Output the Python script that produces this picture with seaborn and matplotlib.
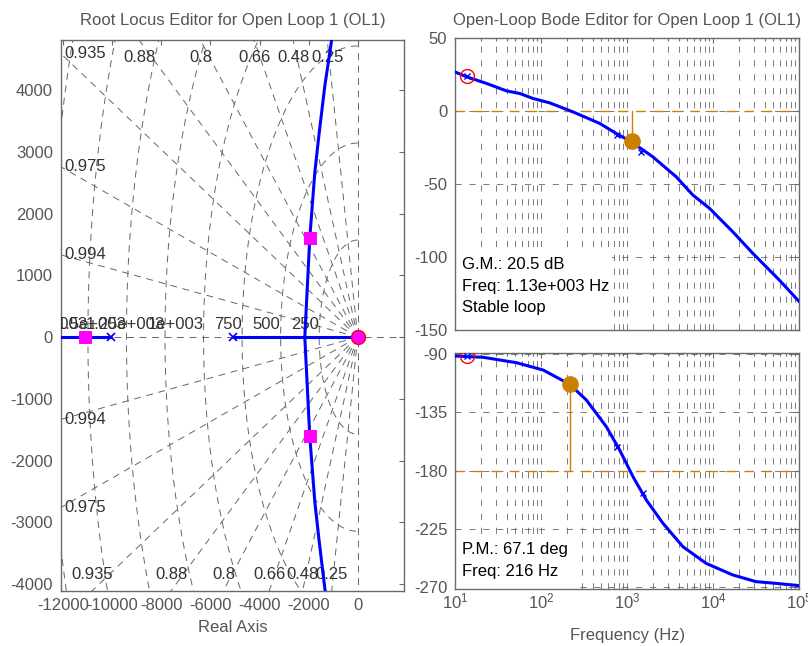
import numpy as np
import pandas as pd
import matplotlib
matplotlib.use("Agg")
import matplotlib.pyplot as plt
import matplotlib.transforms as mtransforms
import seaborn as sns
from matplotlib.patches import Rectangle

# ---- root locus values (rad/s) ----
zeta_values = [0.25, 0.48, 0.66, 0.8, 0.88, 0.935, 0.975, 0.994]
zeta_labels = ['0.25', '0.48', '0.66', '0.8', '0.88', '0.935', '0.975', '0.994']
wn_hz = [250, 500, 750, 1000, 1250, 1500, 1750, 2000]
wn_labels = ['250', '500', '750', '1e+003', '1.25e+003', '1.5e+003', '1.75e+003', '2e+003']

branch_x = [-2156, -1953, -1749, -1587, -1343, -1058, -900]
branch_y = [0, 1607, 2662, 3247, 4058, 4821, 5300]
real_mid_x = [-5070, 0]
real_left_x = [-20000, -10050]
ol_poles_x = [-10050, -5070]
cl_poles_x = [-11100, -1953, -1953]
cl_poles_y = [0, 1607, -1607]

# ---- open-loop bode values ----
mag_freq = [10, 13.7, 23.3, 39.7, 56.7, 80.9, 126, 235, 480, 749, 1117, 1990,
            3717, 5800, 9060, 16900, 28900, 58700, 100000]
mag_db = [26.9, 23.5, 19.0, 13.9, 12.1, 8.7, 5.7, -0.5, -8.4, -15.3, -21.0,
          -31.3, -45.0, -57.5, -66.6, -82.7, -97.5, -115.8, -130.6]
phase_freq = [10, 21.3, 51.9, 106, 215, 336, 574, 819, 1170, 1670, 2608, 4446,
              8270, 16870, 31500, 53600, 100000]
phase_deg = [-91.3, -92.3, -96.5, -102.2, -113.2, -125.4, -146.1, -164.1, -184.8,
             -202.8, -220.9, -239.0, -251.9, -260.9, -266.1, -267.4, -269.2]
mag_x_freq = [770, 1462]
mag_x_db = [-16.4, -27.9]
phase_x_freq = [762, 1528]
phase_x_deg = [-161.6, -197.7]
comp_freq, comp_mag, comp_phase = 13.7, 23.8, -91.3
gm_freq, gm_db = 1130, -20.5
pm_freq, pm_phase = 216, -112.9

sns.set_style("white")
plt.rcParams['font.family'] = ['Liberation Sans', 'DejaVu Sans']
plt.rcParams['axes.unicode_minus'] = False
plt.rcParams['mathtext.default'] = 'regular'
plt.rcParams['lines.scale_dashes'] = False

FS = 12
TXT = '#555555'
SPINE = '#6a6a6a'
GRID = '#666666'
ORANGE = '#CC8000'


def style_axes(ax):
    for s in ax.spines.values():
        s.set_color(SPINE)
        s.set_linewidth(1.0)
        s.set_visible(True)
    ax.tick_params(which='both', direction='in', top=True, right=True,
                   colors=SPINE, labelcolor=TXT, labelsize=FS, width=0.8)
    ax.tick_params(which='major', length=3.5, pad=5.5)
    ax.tick_params(which='minor', length=2)


fig = plt.figure(figsize=(8.08, 6.46), dpi=100)

# ================= Root locus =================
ax_rl = fig.add_axes([0.0751, 0.0856, 0.4249, 0.8525])
xl = (-12106, 1887)
yl = (-4104, 4809)

dash_rl = (0, (5, 4))
for z in zeta_values:
    th = np.arccos(z)
    for sgn in (1, -1):
        ax_rl.plot([0, -40000 * np.cos(th)], [0, sgn * 40000 * np.sin(th)],
                   color=GRID, lw=0.7, ls=dash_rl, zorder=1)
t = np.linspace(0.5 * np.pi, 1.5 * np.pi, 400)
for f in wn_hz:
    r = 2 * np.pi * f
    ax_rl.plot(r * np.cos(t), r * np.sin(t), color=GRID, lw=0.7, ls=dash_rl, zorder=1)
ax_rl.plot([0, 0], [-6000, 6000], color=GRID, lw=0.7, ls=dash_rl, zorder=1)
ax_rl.plot([-14000, 3000], [0, 0], color=GRID, lw=0.7, ls=dash_rl, zorder=1)

# damping labels at the border
for z, lab in zip(zeta_values, zeta_labels):
    s = np.tan(np.arccos(z))
    for sgn, ylim_edge, off in ((1, yl[1], -12.5), (-1, yl[0], 11.5)):
        if -xl[0] * s > abs(ylim_edge):
            ax_rl.annotate(lab, xy=(-abs(ylim_edge) / s, ylim_edge), xytext=(0, off),
                           textcoords='offset points', ha='center', va='center',
                           fontsize=FS, color='#333333', annotation_clip=False)
        else:
            ax_rl.annotate(lab, xy=(xl[0], sgn * -xl[0] * s), xytext=(2.3, 0),
                           textcoords='offset points', ha='left', va='center',
                           fontsize=FS, color='#333333', annotation_clip=False)
# natural frequency labels, clipped by the axes box
lift = mtransforms.offset_copy(ax_rl.transData, fig=fig, x=0, y=5.5, units='points')
for f, lab in zip(wn_hz, wn_labels):
    ax_rl.text(-2 * np.pi * f, 0, lab, transform=lift, ha='right', va='baseline',
               fontsize=FS, color='#333333', clip_on=True)

# locus branches
sns.lineplot(x=branch_x, y=branch_y, sort=False, estimator=None, ax=ax_rl,
             color='blue', lw=2.2, zorder=3)
sns.lineplot(x=branch_x, y=[-v for v in branch_y], sort=False, estimator=None,
             ax=ax_rl, color='blue', lw=2.2, zorder=3)
sns.lineplot(x=real_mid_x, y=[0, 0], sort=False, estimator=None, ax=ax_rl,
             color='blue', lw=2.2, zorder=3)
sns.lineplot(x=real_left_x, y=[0, 0], sort=False, estimator=None, ax=ax_rl,
             color='blue', lw=2.2, zorder=3)
ax_rl.plot(ol_poles_x, [0, 0], ls='none', marker='x', color='blue', ms=6, mew=1.2, zorder=4)
sns.scatterplot(x=cl_poles_x, y=cl_poles_y, marker='s', color='#FF00FF', s=75,
                edgecolor='#FF00FF', ax=ax_rl, zorder=5)
ax_rl.plot([0], [0], marker='o', ms=10, mfc='#FF00FF', mec='red', mew=1.0, zorder=6)

ax_rl.set_xlim(xl)
ax_rl.set_ylim(yl)
ax_rl.set_xticks(np.arange(-12000, 1, 2000))
ax_rl.set_yticks(np.arange(-4000, 4001, 1000))
style_axes(ax_rl)
ax_rl.set_xlabel('Real Axis', fontsize=FS, color=TXT, labelpad=5)
ax_rl.set_ylabel('')
ax_rl.set_title('Root Locus Editor for Open Loop 1 (OL1)', fontsize=FS, color=TXT, pad=10.5)

# ================= Bode magnitude =================
ax_m = fig.add_axes([0.5631, 0.4892, 0.4261, 0.4516])
ax_p = fig.add_axes([0.5631, 0.0878, 0.4261, 0.3653])
dash_bd = (0, (4.5, 5.5))

for ax in (ax_m, ax_p):
    ax.set_xscale('log')
    ax.set_xlim(10, 1e5)
    ax.set_axisbelow(True)
    ax.grid(which='both', axis='x', color=GRID, lw=0.6, ls=dash_bd)
    ax.grid(which='major', axis='y', color=GRID, lw=0.6, ls=dash_bd)

mag_df = pd.DataFrame({'freq': mag_freq, 'mag': mag_db})
ax_m.add_patch(Rectangle((0, 0), 0.455, 0.274, transform=ax_m.transAxes,
                         facecolor='white', edgecolor='none', zorder=1))
ax_m.axhline(0, color=ORANGE, lw=1.0, ls=(0, (7, 6)), zorder=2)
ax_m.plot([gm_freq, gm_freq], [0, gm_db], color=ORANGE, lw=1.0, zorder=2)
sns.lineplot(data=mag_df, x='freq', y='mag', sort=False, estimator=None, ax=ax_m,
             color='blue', lw=2.2, zorder=3)
ax_m.plot(mag_x_freq, mag_x_db, ls='none', marker='x', color='blue', ms=5, mew=1, zorder=4)
ax_m.plot([comp_freq], [comp_mag], marker='x', color='blue', ms=5, mew=1, zorder=4)
ax_m.plot([comp_freq], [comp_mag], marker='o', ms=10, mfc='none', mec='red', mew=1, zorder=5)
ax_m.plot([gm_freq], [gm_db], marker='o', ms=11, color=ORANGE, zorder=5)
ax_m.set_ylim(-150, 50)
ax_m.set_yticks([50, 0, -50, -100, -150])
style_axes(ax_m)
ax_m.tick_params(labelbottom=False)
ax_m.set_xlabel('')
ax_m.set_ylabel('')
ax_m.set_title('Open-Loop Bode Editor for Open Loop 1 (OL1)', fontsize=FS, color=TXT, pad=9.6)
for yy, s in zip([0.2228, 0.1474, 0.0754],
                 ['G.M.: 20.5 dB', 'Freq: 1.13e+003 Hz', 'Stable loop']):
    ax_m.text(0.0195, yy, s, transform=ax_m.transAxes, fontsize=FS, color='black',
              ha='left', va='center', zorder=6)

# ================= Bode phase =================
ph_df = pd.DataFrame({'freq': phase_freq, 'phase': phase_deg})
ax_p.add_patch(Rectangle((0, 0), 0.348, 0.236, transform=ax_p.transAxes,
                         facecolor='white', edgecolor='none', zorder=1))
ax_p.axhline(-180, color=ORANGE, lw=1.0, ls=(0, (7, 6)), zorder=2)
ax_p.plot([pm_freq, pm_freq], [-180, pm_phase], color=ORANGE, lw=1.0, zorder=2)
sns.lineplot(data=ph_df, x='freq', y='phase', sort=False, estimator=None, ax=ax_p,
             color='blue', lw=2.2, zorder=3)
ax_p.plot(phase_x_freq, phase_x_deg, ls='none', marker='x', color='blue', ms=5, mew=1, zorder=4)
ax_p.plot([comp_freq], [comp_phase], marker='x', color='blue', ms=5, mew=1, zorder=4)
ax_p.plot([comp_freq], [comp_phase], marker='o', ms=10, mfc='none', mec='red', mew=1, zorder=5)
ax_p.plot([pm_freq], [pm_phase], marker='o', ms=11, color=ORANGE, zorder=5)
ax_p.set_ylim(-272, -89.2)
ax_p.set_yticks([-90, -135, -180, -225, -270])
style_axes(ax_p)
ax_p.tick_params(axis='x', which='major', pad=1.5)
ax_p.set_xlabel('Frequency (Hz)', fontsize=FS, color=TXT, labelpad=12)
ax_p.set_ylabel('')
for yy, s in zip([0.1665, 0.0746], ['P.M.: 67.1 deg', 'Freq: 216 Hz']):
    ax_p.text(0.0195, yy, s, transform=ax_p.transAxes, fontsize=FS, color='black',
              ha='left', va='center', zorder=6)

fig.savefig('out.png', dpi=100)
